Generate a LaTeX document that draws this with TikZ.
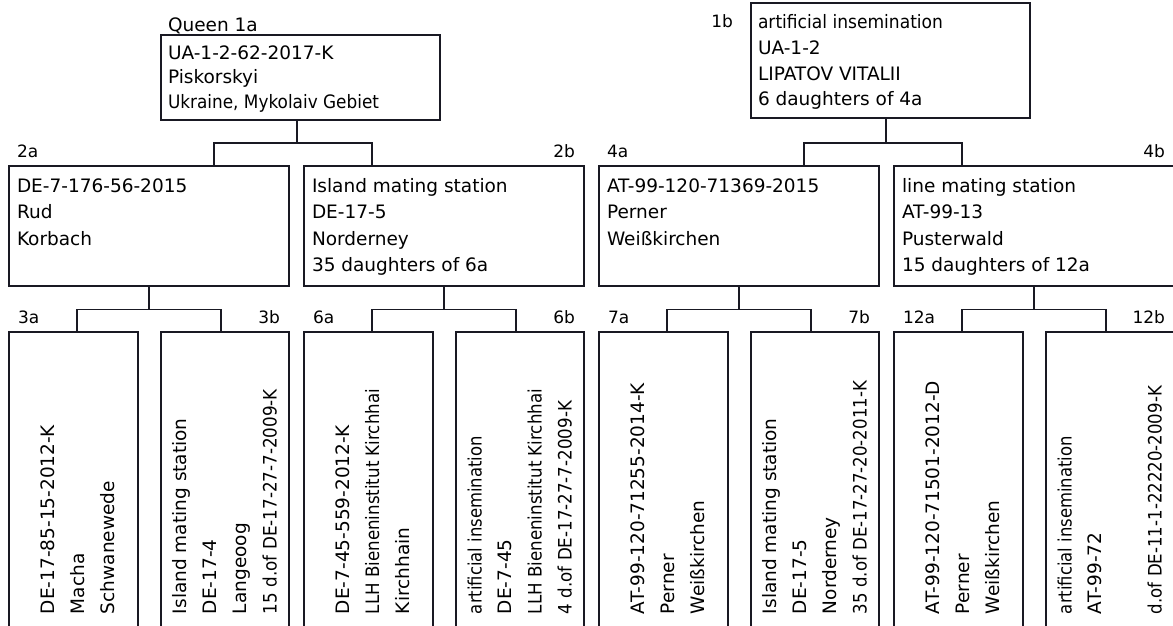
\documentclass[tikz,border=0pt]{standalone}
\usepackage{fontspec}
\setmainfont{DejaVu Sans}
\usepackage{graphicx}
\newcommand{\sqz}[2]{\resizebox{#1pt}{\height}{#2}}
\definecolor{linec}{RGB}{25,25,35}
\begin{document}
\begin{tikzpicture}[x=1pt,y=-1pt,
 box/.style={draw=linec, line width=1.3pt, inner sep=0pt, outer sep=0pt, anchor=north west},
 tx/.style={anchor=base west, inner sep=0pt, outer sep=0pt, font=\fontsize{18.5}{22}\selectfont},
 vt/.style={tx, rotate=90},
 lw/.style={anchor=base west, inner sep=0pt, outer sep=0pt, font=\fontsize{17}{20}\selectfont},
 le/.style={lw, anchor=base east},
 conn/.style={draw=linec, line width=1.3pt}]
\clip (0,0) rectangle (1173,626);
% ---- Row 1
\node[box, minimum width=279pt, minimum height=85pt] (n1a) at (161,35) {};
\node[tx] (q1a) at (168,31.5) {Queen 1a};
\node[tx] (t1a1) at (168,59.5) {UA-1-2-62-2017-K};
\node[tx] (t1a2) at (168,84) {Piskorskyi};
\node[tx] (t1a3) at (168,108.5) {\sqz{211}{Ukraine, Mykolaiv Gebiet}};
\node[box, minimum width=279pt, minimum height=115pt] (n1b) at (751,3) {};
\node[le] (l1b) at (733,27.5) {1b};
\node[tx] (t1b1) at (758,29) {\sqz{185}{artificial insemination}};
\node[tx] (t1b2) at (758,55) {UA-1-2};
\node[tx] (t1b3) at (758,80.5) {LIPATOV VITALII};
\node[tx] (t1b4) at (758,106) {6 daughters of 4a};
% ---- Row 2
\node[box, minimum width=280pt, minimum height=120pt] (n2a) at (9,166) {};
\node[lw] (l2a) at (17,157) {2a};
\node[tx] (t2a1) at (17,192) {DE-7-176-56-2015};
\node[tx] (t2a2) at (17,218.5) {Rud};
\node[tx] (t2a3) at (17,245) {Korbach};
\node[box, minimum width=280pt, minimum height=120pt] (n2b) at (304,166) {};
\node[le] (l2b) at (575,157) {2b};
\node[tx] (t2b1) at (312,192) {Island mating station};
\node[tx] (t2b2) at (312,218.5) {DE-17-5};
\node[tx] (t2b3) at (312,245) {Norderney};
\node[tx] (t2b4) at (312,271.5) {35 daughters of 6a};
\node[box, minimum width=280pt, minimum height=120pt] (n4a) at (599,166) {};
\node[lw] (l4a) at (607,157) {4a};
\node[tx] (t4a1) at (607,192) {AT-99-120-71369-2015};
\node[tx] (t4a2) at (607,218.5) {Perner};
\node[tx] (t4a3) at (607,245) {Weißkirchen};
\node[box, minimum width=280pt, minimum height=120pt] (n4b) at (894,166) {};
\node[le] (l4b) at (1165,157) {4b};
\node[tx] (t4b1) at (902,192) {line mating station};
\node[tx] (t4b2) at (902,218.5) {AT-99-13};
\node[tx] (t4b3) at (902,245) {Pusterwald};
\node[tx] (t4b4) at (902,271.5) {15 daughters of 12a};
% ---- Row 3 boxes
\node[box, minimum width=129pt, minimum height=320pt] (n3a) at (9,332) {};
\node[box, minimum width=128pt, minimum height=320pt] (n3b) at (161,332) {};
\node[box, minimum width=129pt, minimum height=320pt] (n6a) at (304,332) {};
\node[box, minimum width=128pt, minimum height=320pt] (n6b) at (456,332) {};
\node[box, minimum width=129pt, minimum height=320pt] (n7a) at (599,332) {};
\node[box, minimum width=128pt, minimum height=320pt] (n7b) at (751,332) {};
\node[box, minimum width=129pt, minimum height=320pt] (n12a) at (894,332) {};
\node[box, minimum width=128pt, minimum height=320pt] (n12b) at (1046,332) {};
% labels row 3
\node[lw] (l3a) at (18,323) {3a};
\node[le] (l3b) at (280,323) {3b};
\node[lw] (l6a) at (313,323) {6a};
\node[le] (l6b) at (575,323) {6b};
\node[lw] (l7a) at (608,323) {7a};
\node[le] (l7b) at (870,323) {7b};
\node[lw] (l12a) at (903,323) {12a};
\node[le] (l12b) at (1165,323) {12b};
% texts row 3
\node[vt] (t3a1) at (54,614) {DE-17-85-15-2012-K};
\node[vt] (t3a2) at (84,614) {Macha};
\node[vt] (t3a3) at (114,614) {Schwanewede};
\node[vt] (t3b1) at (186.5,614) {Island mating station};
\node[vt] (t3b2) at (216.5,614) {DE-17-4};
\node[vt] (t3b3) at (246.5,614) {Langeoog};
\node[vt] (t3b4) at (276.5,614) {\sqz{225}{15 d.of DE-17-27-7-2009-K}};
\node[vt] (t6a1) at (349,614) {DE-7-45-559-2012-K};
\node[vt] (t6a2) at (379,614) {\sqz{225}{LLH Bieneninstitut Kirchhai}};
\node[vt] (t6a3) at (409,614) {Kirchhain};
\node[vt] (t6b1) at (481.5,614) {\sqz{178}{artificial insemination}};
\node[vt] (t6b2) at (511.5,614) {DE-7-45};
\node[vt] (t6b3) at (541.5,614) {\sqz{225}{LLH Bieneninstitut Kirchhai}};
\node[vt] (t6b4) at (571.5,614) {\sqz{213}{4 d.of DE-17-27-7-2009-K}};
\node[vt] (t7a1) at (644,614) {AT-99-120-71255-2014-K};
\node[vt] (t7a2) at (674,614) {Perner};
\node[vt] (t7a3) at (704,614) {Weißkirchen};
\node[vt] (t7b1) at (776.5,614) {Island mating station};
\node[vt] (t7b2) at (806.5,614) {DE-17-5};
\node[vt] (t7b3) at (836.5,614) {Norderney};
\node[vt] (t7b4) at (866.5,614) {\sqz{233}{35 d.of DE-17-27-20-2011-K}};
\node[vt] (t12a1) at (939,614) {AT-99-120-71501-2012-D};
\node[vt] (t12a2) at (969,614) {Perner};
\node[vt] (t12a3) at (999,614) {Weißkirchen};
\node[vt] (t12b1) at (1071.5,614) {\sqz{178}{artificial insemination}};
\node[vt] (t12b2) at (1101.5,614) {AT-99-72};
\node[vt] (t12b4) at (1161.5,614) {\sqz{228}{d.of DE-11-1-22220-2009-K}};
% ---- connectors level 1
\coordinate (j1a) at (297,143); \coordinate (j1al) at (214,143); \coordinate (j1ar) at (372,143);
\draw[conn] (n1a.south -| j1a) -- (j1a);
\draw[conn] (n2a.north -| j1al) -- (j1al) -- (j1ar) -- (n2b.north -| j1ar);
\coordinate (j1b) at (886,143); \coordinate (j1bl) at (804,143); \coordinate (j1br) at (962,143);
\draw[conn] (n1b.south -| j1b) -- (j1b);
\draw[conn] (n4a.north -| j1bl) -- (j1bl) -- (j1br) -- (n4b.north -| j1br);
% ---- connectors level 2
\coordinate (j2a) at (149,309.5); \coordinate (j2al) at (77,309.5); \coordinate (j2ar) at (221,309.5);
\draw[conn] (n2a.south) -- (j2a);
\draw[conn] (n3a.north -| j2al) -- (j2al) -- (j2ar) -- (n3b.north -| j2ar);
\coordinate (j2b) at (444,309.5); \coordinate (j2bl) at (372,309.5); \coordinate (j2br) at (516,309.5);
\draw[conn] (n2b.south) -- (j2b);
\draw[conn] (n6a.north -| j2bl) -- (j2bl) -- (j2br) -- (n6b.north -| j2br);
\coordinate (j4a) at (739,309.5); \coordinate (j4al) at (667,309.5); \coordinate (j4ar) at (811,309.5);
\draw[conn] (n4a.south) -- (j4a);
\draw[conn] (n7a.north -| j4al) -- (j4al) -- (j4ar) -- (n7b.north -| j4ar);
\coordinate (j4b) at (1034,309.5); \coordinate (j4bl) at (962,309.5); \coordinate (j4br) at (1106,309.5);
\draw[conn] (n4b.south) -- (j4b);
\draw[conn] (n12a.north -| j4bl) -- (j4bl) -- (j4br) -- (n12b.north -| j4br);
\end{tikzpicture}
\end{document}
